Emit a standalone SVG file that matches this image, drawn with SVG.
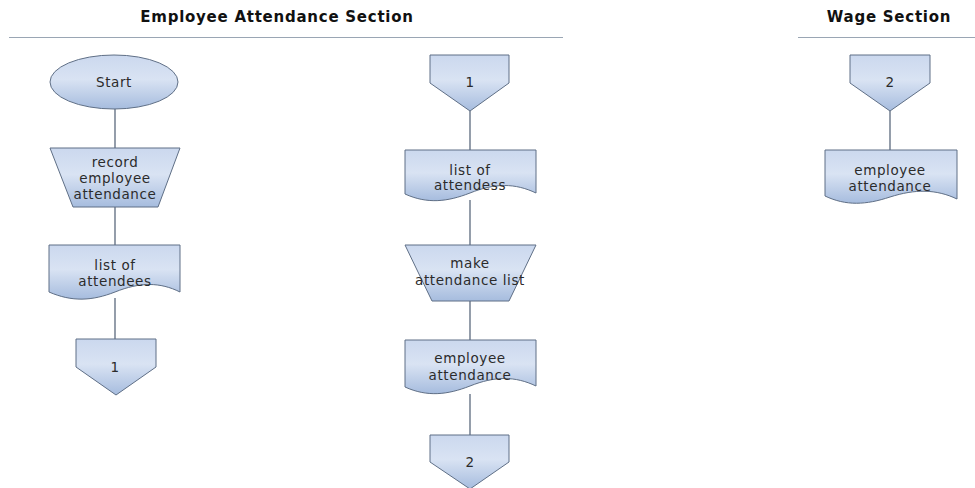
<svg xmlns="http://www.w3.org/2000/svg" width="975" height="488" viewBox="0 0 975 488">
<defs>
<linearGradient id="g" x1="0" y1="0" x2="0" y2="1">
<stop offset="0" stop-color="#cbd8ee"/>
<stop offset="0.45" stop-color="#d9e3f3"/>
<stop offset="1" stop-color="#a6bcde"/>
</linearGradient>
<style>
.s{fill:url(#g);stroke:#5f6f86;stroke-width:1}
.t{font-family:"DejaVu Sans",sans-serif;font-size:13.5px;letter-spacing:0.6px;fill:#2b2b2b;text-anchor:middle}
.h{font-family:"DejaVu Sans",sans-serif;font-size:15px;font-weight:bold;letter-spacing:0.75px;fill:#111;text-anchor:middle}
.c{stroke:#4e5d72;stroke-width:1.2;fill:none}
.r{stroke:#9aa6b4;stroke-width:1}
</style>
</defs>
<rect width="975" height="488" fill="#ffffff"/>
<g id="headers">
<text class="h" x="277" y="22">Employee Attendance Section</text>
<line class="r" x1="9" y1="37.5" x2="563" y2="37.5"/>
<text class="h" x="889" y="22">Wage Section</text>
<line class="r" x1="798" y1="37.5" x2="975" y2="37.5"/>
</g>
<g id="connectors">
<line class="c" x1="115" y1="109" x2="115" y2="148"/>
<line class="c" x1="115" y1="207" x2="115" y2="245"/>
<line class="c" x1="115" y1="298" x2="115" y2="339"/>
<line class="c" x1="470" y1="111" x2="470" y2="150"/>
<line class="c" x1="470" y1="200" x2="470" y2="245"/>
<line class="c" x1="470" y1="301" x2="470" y2="340"/>
<line class="c" x1="470" y1="394" x2="470" y2="435"/>
<line class="c" x1="890" y1="111" x2="890" y2="150"/>
</g>
<g id="start">
<ellipse class="s" cx="114" cy="82" rx="64" ry="27"/>
<text class="t" x="114" y="87">Start</text>
</g>
<g id="record">
<polygon class="s" points="50,148 180,148 158,207 73,207"/>
<text class="t" x="115" y="167">record</text>
<text class="t" x="115" y="183">employee</text>
<text class="t" x="115" y="199">attendance</text>
</g>
<g id="doc1">
<path class="s" d="M49,245 H180 V292 C160,282 140,282 115,292 C92,301 72,302 49,292 Z"/>
<text class="t" x="115" y="270">list of</text>
<text class="t" x="115" y="286">attendees</text>
</g>
<g id="off1">
<polygon class="s" points="76,339 156,339 156,367 116,395 76,367"/>
<text class="t" x="115" y="372">1</text>
</g>
<g id="on1">
<polygon class="s" points="430,55 509,55 509,83 470,111 430,83"/>
<text class="t" x="470" y="87">1</text>
</g>
<g id="doc2">
<path class="s" d="M405,150 H536 V193 C515,183 495,183 470,193 C447,202 427,204 405,194 Z"/>
<text class="t" x="470" y="175">list of</text>
<text class="t" x="470" y="190">attendess</text>
</g>
<g id="make">
<polygon class="s" points="405,245 536,245 509,301 432,301"/>
<text class="t" x="470" y="268">make</text>
<text class="t" x="470" y="285">attendance list</text>
</g>
<g id="doc3">
<path class="s" d="M405,340 H536 V386 C515,376 495,376 470,386 C447,395 427,397 405,387 Z"/>
<text class="t" x="470" y="363">employee</text>
<text class="t" x="470" y="380">attendance</text>
</g>
<g id="off2">
<polygon class="s" points="430,435 509,435 509,462 470,489 430,462"/>
<text class="t" x="470" y="467">2</text>
</g>
<g id="on2">
<polygon class="s" points="850,55 930,55 930,83 890,111 850,83"/>
<text class="t" x="890" y="87">2</text>
</g>
<g id="doc4">
<path class="s" d="M825,150 H957 V199 C936,189 915,189 890,197 C866,205 846,206 825,196 Z"/>
<text class="t" x="890" y="175">employee</text>
<text class="t" x="890" y="191">attendance</text>
</g>
</svg>
